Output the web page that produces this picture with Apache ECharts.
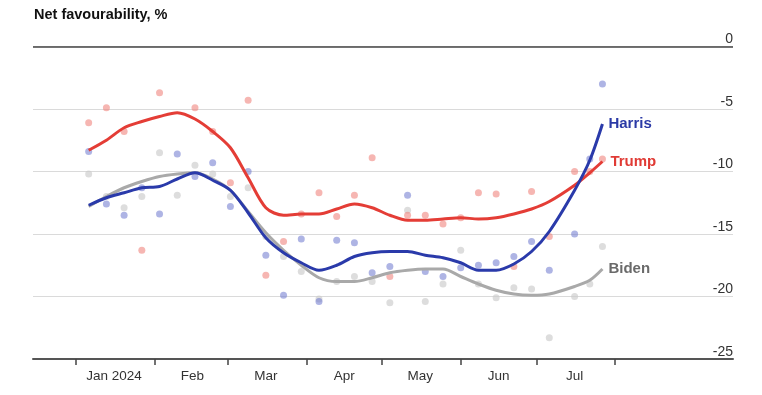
<!DOCTYPE html>
<html><head><meta charset="utf-8">
<script src="https://cdn.jsdelivr.net/npm/echarts@6/dist/echarts.min.js"></script>
<style>html,body{margin:0;padding:0;background:#fff}#c{width:762px;height:395px}</style>
</head><body><div id="c"></div>
<script>
const dates = ['2024-01-06','2024-01-13','2024-01-20','2024-01-27','2024-02-03','2024-02-10','2024-02-17','2024-02-24',
  '2024-03-02','2024-03-09','2024-03-16','2024-03-23','2024-03-30','2024-04-06','2024-04-13','2024-04-20','2024-04-27',
  '2024-05-04','2024-05-11','2024-05-18','2024-05-25','2024-06-01','2024-06-08','2024-06-15','2024-06-22','2024-06-29',
  '2024-07-06','2024-07-16','2024-07-22','2024-07-27'];

const trumpLine = [-8.3,-7.5,-6.5,-6.0,-5.6,-5.3,-5.8,-6.8,-8.1,-10.5,-12.9,-13.5,-13.4,-13.4,-13.0,-12.6,-12.9,-13.5,-13.9,-13.9,-13.8,-13.7,-13.8,-13.7,-13.4,-13.0,-12.4,-11.1,-10.1,-9.2];
const harrisLine = [-12.7,-12.1,-11.7,-11.3,-11.2,-10.6,-10.1,-10.7,-11.5,-13.3,-15.3,-16.5,-17.3,-17.9,-17.5,-16.8,-16.5,-16.4,-16.4,-16.7,-16.9,-17.3,-17.9,-17.9,-17.4,-16.4,-14.8,-11.5,-9.1,-6.2];
const bidenLine = [-12.8,-12.0,-11.3,-10.8,-10.4,-10.2,-10.1,-10.6,-11.5,-13.2,-14.9,-16.3,-17.5,-18.5,-18.8,-18.8,-18.5,-18.1,-17.9,-17.8,-17.8,-18.4,-19.0,-19.5,-19.8,-19.9,-19.8,-19.2,-18.7,-17.8];

const trumpPolls = [-6.1,-4.9,-6.8,-16.3,-3.7,0.9,-4.9,-6.8,-10.9,-4.3,-18.3,-15.6,-13.4,-11.7,-13.6,-11.9,-8.9,-18.4,-13.5,-13.5,-14.2,-13.7,-11.7,-11.8,-17.6,-11.6,-15.2,-10.0,-10.0,-9.0];
const harrisPolls = [-8.4,-12.6,-13.5,-11.3,-13.4,-8.6,-10.4,-9.3,-12.8,-10.0,-16.7,-19.9,-15.4,-20.4,-15.5,-15.7,-18.1,-17.6,-11.9,-18.0,-18.4,-17.7,-17.5,-17.3,-16.8,-15.6,-17.9,-15.0,-9.0,-3.0];
const bidenPolls = [-10.2,-12.0,-12.9,-12.0,-8.5,-11.9,-9.5,-10.2,-12.0,-11.3,-15.2,-16.8,-18.0,-20.2,-18.8,-18.4,-18.8,-20.5,-13.1,-20.4,-19.0,-16.3,-19.0,-20.1,-19.3,-19.4,-23.3,-20.0,-19.0,-16.0];

const monthLabels = ['Jan 2024','Feb','Mar','Apr','May','Jun','Jul'];
const yTicks = [-25,-20,-15,-10,-5,0];

const FONT = "'Liberation Sans',Arial,sans-serif";
const C = {trump:'#e43d36', harris:'#2a3aaa', biden:'#a9a9a9',
  trumpDot:'rgba(240,128,122,0.72)', harrisDot:'rgba(115,125,208,0.72)', bidenDot:'rgba(202,202,202,0.8)'};

const zip = arr => dates.map((d,i)=>[d, arr[i]]);
const chart = echarts.init(document.getElementById('c'));

function dots(name, arr, color){
  return {name, type:'scatter', data: zip(arr), symbolSize:7, itemStyle:{color}, z:2, silent:true};
}
function line(name, arr, color, labelColor, extraLabel){
  return {name, type:'line', data: zip(arr), smooth:0.3, showSymbol:false, symbol:'none',
    lineStyle:{color, width:3}, z:5, silent:true,
    endLabel:Object.assign({show:true, formatter:name, color:labelColor, fontFamily:FONT, fontWeight:'bold', fontSize:15, distance:6}, extraLabel||{})};
}

chart.setOption({
  animation:false,
  title:{text:'Net favourability, %', left:29, top:2,
    textStyle:{fontFamily:FONT, fontWeight:'bold', fontSize:14.5, color:'#111'}},
  grid:[{left:33, right:29, top:46.5, bottom:36},
        {left:33, width:617.5, top:46.5, bottom:36}],
  xAxis:[
    {type:'time', gridIndex:0, min:'2023-12-15', max:'2024-09-16 14:00',
      axisLine:{show:true, onZero:false, lineStyle:{color:'#555', width:2}}, axisTick:{show:false}, axisLabel:{show:false}, splitLine:{show:false}},
    {type:'time', gridIndex:1, min:'2023-12-15', max:'2024-08-15',
      minInterval:28*86400000, maxInterval:31*86400000,
      axisLine:{show:false, onZero:false}, splitLine:{show:false},
      axisTick:{show:true, length:6, lineStyle:{color:'#444', width:1.5}},
      axisLabel:{show:true, hideOverlap:false, margin:10, color:'#333', fontFamily:FONT, fontSize:13.5,
        padding:[0,0,0,76],
        formatter: v => { const d=new Date(v); if(d.getDate()!==1||d.getFullYear()!==2024||d.getMonth()>6) return ''; return monthLabels[d.getMonth()]; }}}
  ],
  yAxis:[
    {type:'value', gridIndex:0, min:yTicks[0], max:yTicks[yTicks.length-1], interval:5, position:'right',
      axisLine:{show:false}, axisTick:{show:false},
      axisLabel:{inside:true, margin:0, verticalAlign:'bottom', padding:[0,0,0,0], color:'#333', fontFamily:FONT, fontSize:14},
      splitLine:{lineStyle:{color:'#dadada', width:1}}},
    {type:'value', gridIndex:1, min:-25, max:0, show:false}
  ],
  series:[
    dots('Biden polls', bidenPolls, C.bidenDot),
    dots('Trump polls', trumpPolls, C.trumpDot),
    dots('Harris polls', harrisPolls, C.harrisDot),
    Object.assign(line('Biden', bidenLine, C.biden, '#6a6a6a'), {
      markLine:{silent:true, symbol:'none', label:{show:false}, lineStyle:{color:'#444', width:1.5, type:'solid'}, data:[{yAxis:0}]}}),
    line('Trump', trumpLine, C.trump, '#e03b35', {backgroundColor:'#fff', padding:[2,5,2,2]}),
    line('Harris', harrisLine, C.harris, '#2b3aa6')
  ]
});
</script></body></html>
